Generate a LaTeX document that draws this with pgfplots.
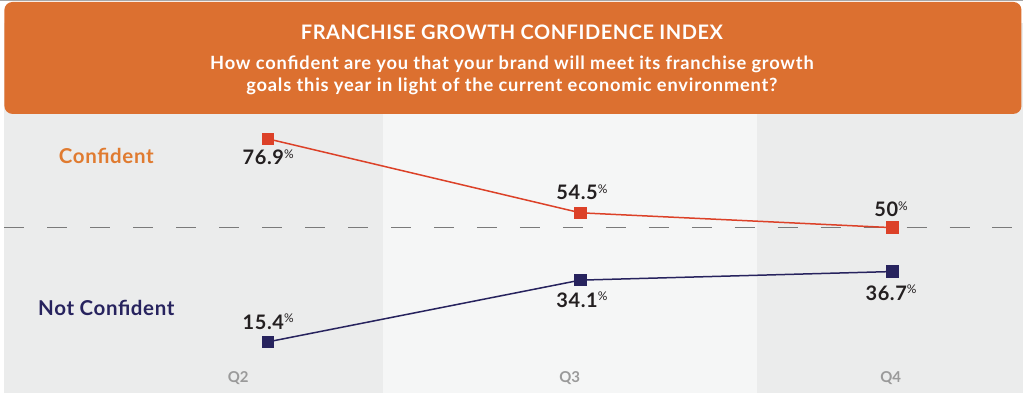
\documentclass[border=0pt]{standalone}
\usepackage{fontspec}
\setmainfont{Lato}
\usepackage{pgfplots}
\pgfplotsset{compat=1.18}
\definecolor{hdr}{HTML}{DC7030}
\definecolor{conflbl}{HTML}{E07B30}
\definecolor{redline}{HTML}{DC4128}
\definecolor{navy}{HTML}{27235E}
\definecolor{paneldark}{HTML}{EBECEC}
\definecolor{panellight}{HTML}{F5F6F6}
\definecolor{qgray}{HTML}{9A9A9A}
\definecolor{valtxt}{HTML}{231F20}
\definecolor{dashgray}{HTML}{7A7A7A}
\newcommand{\pct}{\raisebox{0.6ex}{\fontsize{12}{12}\selectfont\mdseries\%}}
\newcommand{\val}[1]{{\fontsize{20}{20}\selectfont\bfseries\addfontfeature{LetterSpace=3}#1\pct}}
\begin{document}
\begin{tikzpicture}
\begin{axis}[
  width=1024pt, height=393pt, scale only axis,
  xmin=-0.8576, xmax=2.4192, ymin=0, ymax=119,
  hide axis, clip=false,
]
% background panels
\fill[white] (axis cs:-0.8576,0) rectangle (axis cs:-0.8448,119);
\fill[paneldark] (axis cs:-0.8448,0) rectangle (axis cs:0.368,119);
\fill[panellight] (axis cs:0.368,0) rectangle (axis cs:1.5648,119);
\fill[paneldark] (axis cs:1.5648,0) rectangle (axis cs:2.4192,119);
\fill[white] (axis cs:-0.8576,112) rectangle (axis cs:2.4192,119);
% header
\fill[hdr, rounded corners=8pt] (axis cs:-0.8448,84.48) rectangle (axis cs:2.4128,118.4);
\draw[gray!70, line width=0.8pt] (axis cs:-0.8576,118.85) -- (axis cs:2.4192,118.85);
\node[white, font=\fontsize{20}{24}\selectfont\bfseries\addfontfeature{LetterSpace=2.7}] at (axis cs:0.7808,109.3) {FRANCHISE GROWTH CONFIDENCE INDEX};
\node[white, align=center, font=\fontsize{18.3}{22}\selectfont\bfseries\addfontfeature{LetterSpace=4.3}] at (axis cs:0.7808,96.3)
  {How confident are you that your brand will meet its franchise growth\\goals this year in light of the current economic environment?};
% dashed midline
\draw[dashgray, line width=1.1pt, dash pattern=on 20pt off 23pt] (axis cs:-0.8448,50) -- (axis cs:2.4192,50);
% data
\addplot[redline, line width=1.5pt, mark=square*, mark size=5.5pt, mark options={solid, fill=redline}]
  coordinates {(0,76.9) (1,54.5) (2,50)};
\addplot[navy, line width=1.5pt, mark=square*, mark size=5.5pt, mark options={solid, fill=navy}]
  coordinates {(0,15.4) (1,34.1) (2,36.7)};
% series labels
\node[conflbl, font=\fontsize{20.5}{24}\selectfont\bfseries\addfontfeature{LetterSpace=3}] at (axis cs:-0.5184,71.76) {Confident};
\node[navy, font=\fontsize{20.5}{24}\selectfont\bfseries\addfontfeature{LetterSpace=3}] at (axis cs:-0.5184,25.74) {Not Confident};
% value labels
\node[valtxt] at (axis cs:0,71.46) {\val{76.9}};
\node[valtxt] at (axis cs:0,21.5) {\val{15.4}};
\node[valtxt] at (axis cs:1.005,60.86) {\val{54.5}};
\node[valtxt] at (axis cs:1.005,28.16) {\val{34.1}};
\node[valtxt] at (axis cs:1.995,55.71) {\val{50}};
\node[valtxt] at (axis cs:1.995,30.28) {\val{36.7}};
% quarter labels
\node[qgray, font=\fontsize{15}{17}\selectfont\bfseries] at (axis cs:-0.096,4.54) {Q2};
\node[qgray, font=\fontsize{15}{17}\selectfont\bfseries] at (axis cs:0.966,4.54) {Q3};
\node[qgray, font=\fontsize{15}{17}\selectfont\bfseries] at (axis cs:1.994,4.54) {Q4};
\end{axis}
\end{tikzpicture}
\end{document}
